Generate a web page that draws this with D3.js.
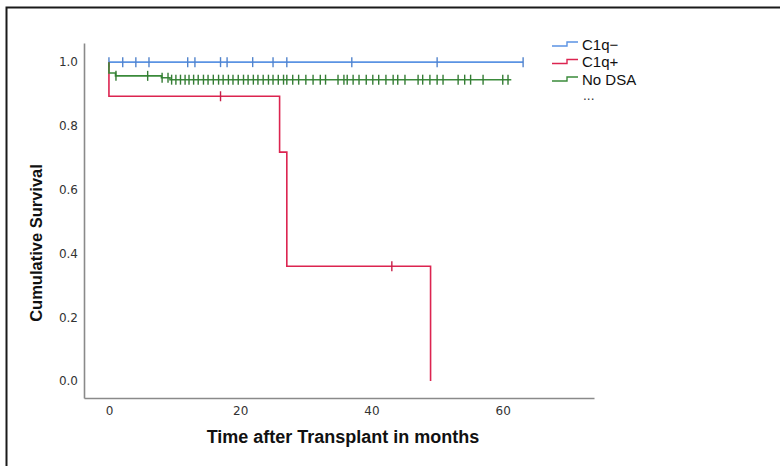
<!DOCTYPE html>
<html>
<head>
<meta charset="utf-8">
<script src="https://cdn.jsdelivr.net/npm/d3@7/dist/d3.min.js"></script>
<style>
  html, body { margin: 0; padding: 0; background: #fff; }
  svg { display: block; font-family: "Liberation Sans", Arial, sans-serif; }
</style>
</head>
<body>
<svg id="chart" width="780" height="466"></svg>
<script>
// Kaplan-Meier survival by DSA group
const groups = ["C1q\u2212", "C1q+", "No DSA"];
const groupColors = ["#5b93e3", "#dc2450", "#3a8a3a"];

// events: [time, survival after the event]
const c1qNegEvents = [];
const c1qNegCensored = [0, 2.1, 4.1, 6.1, 12.0, 13.1, 17.0, 18.0, 21.9, 25.0, 27.1, 37.0, 50.0, 63.1];
const c1qNegEnd = 63.1;

const c1qPosEvents = [[0, 0.893], [26.0, 0.718], [27.1, 0.360], [49.0, 0.0]];
const c1qPosCensored = [17.0, 43.1];
const c1qPosEnd = 49.0;

const noDsaEvents = [[0, 0.966], [1.0, 0.957], [8.0, 0.951], [9.3, 0.945]];
const noDsaCensored = [1.07, 5.9, 8.1, 9.0, 9.55, 10.2, 10.9, 11.6, 12.2, 12.9, 13.6, 14.4, 15.1, 15.9,
  16.7, 17.4, 18.2, 18.9, 19.7, 20.5, 21.2, 22.0, 22.7, 23.5, 24.3, 25.0, 25.8, 26.6,
  27.1, 28.0, 28.9, 30.0, 31.1, 32.2, 33.0, 34.9, 35.8, 36.3, 37.2, 38.1, 39.2, 40.2,
  41.1, 42.2, 43.3, 44.0, 45.1, 47.1, 47.8, 48.9, 50.0, 50.9, 53.2, 54.2, 55.1, 57.0,
  60.0, 60.8];
const noDsaEnd = 61.3;

const xTicks = [0, 20, 40, 60];
const yTicks = [0.0, 0.2, 0.4, 0.6, 0.8, 1.0];

const series = [
  { name: groups[0], color: groupColors[0], events: c1qNegEvents, censored: c1qNegCensored, end: c1qNegEnd },
  { name: groups[1], color: groupColors[1], events: c1qPosEvents, censored: c1qPosCensored, end: c1qPosEnd },
  { name: groups[2], color: groupColors[2], events: noDsaEvents, censored: noDsaCensored, end: noDsaEnd }
];

const svg = d3.select("#chart");

// outer frame
svg.append("rect")
  .attr("x", 6.5).attr("y", 7.5)
  .attr("width", 800).attr("height", 500)
  .attr("fill", "none").attr("stroke", "#1a1a1a").attr("stroke-width", 2);

const x = d3.scaleLinear().domain([-3.8, 73.9]).range([84, 594]);
const y = d3.scaleLinear().domain([-0.053, 1.06]).range([398, 43]);

// axes
const xAxis = svg.append("g")
  .attr("transform", "translate(0,398)")
  .call(d3.axisBottom(x).tickValues(xTicks).tickFormat(d3.format("d")).tickSize(0).tickSizeOuter(0).tickPadding(8));
const yAxis = svg.append("g")
  .attr("transform", "translate(84,0)")
  .call(d3.axisLeft(y).tickValues(yTicks).tickFormat(d3.format(".1f")).tickSize(0).tickSizeOuter(0).tickPadding(6));

[xAxis, yAxis].forEach(g => {
  g.select(".domain").attr("stroke", "#8a8a8a").attr("stroke-width", 1.6);
  g.selectAll("text").attr("fill", "#333").style("font-size", "12px")
    .style("font-family", "'DejaVu Sans', sans-serif");
});

// axis titles
svg.append("text")
  .attr("x", 343).attr("y", 443)
  .attr("text-anchor", "middle")
  .style("font-size", "18px").style("font-weight", "bold").attr("fill", "#111")
  .text("Time after Transplant in months");
svg.append("text")
  .attr("transform", "translate(42,243) rotate(-90)")
  .attr("text-anchor", "middle")
  .style("font-size", "16.5px").style("font-weight", "bold").attr("fill", "#111")
  .text("Cumulative Survival");

// survival value at time t (right-continuous step function)
function survivalAt(events, t) {
  let s = 1;
  for (const [et, es] of events) { if (et <= t) s = es; }
  return s;
}

// step path points
function stepPoints(s) {
  const pts = [[0, 1]];
  let cur = 1;
  for (const [et, es] of s.events) {
    pts.push([et, cur]);
    pts.push([et, es]);
    cur = es;
  }
  const last = s.events.length ? s.events[s.events.length - 1][0] : 0;
  if (s.end > last) pts.push([s.end, cur]);
  return pts;
}

const line = d3.line().x(d => x(d[0])).y(d => y(d[1]));

series.forEach(s => {
  const g = svg.append("g");
  g.append("path")
    .attr("d", line(stepPoints(s)))
    .attr("fill", "none")
    .attr("stroke", s.color)
    .attr("stroke-width", 1.6);
  g.selectAll("line.censor")
    .data(s.censored)
    .join("line")
    .attr("class", "censor")
    .attr("x1", d => x(d)).attr("x2", d => x(d))
    .attr("y1", d => y(survivalAt(s.events, d)) - 5)
    .attr("y2", d => y(survivalAt(s.events, d)) + 5)
    .attr("stroke", d3.color(s.color).darker(0.3))
    .attr("stroke-width", 1.4);
});

// legend
const legend = svg.append("g").attr("transform", "translate(552,0)");
series.forEach((s, i) => {
  const cy = 44 + i * 17.5;
  legend.append("path")
    .attr("d", `M0,${cy + 2}H15V${cy - 2}H26`)
    .attr("fill", "none").attr("stroke", s.color).attr("stroke-width", 1.4);
  legend.append("text")
    .attr("x", 30).attr("y", cy + 5.5)
    .style("font-size", "15px").attr("fill", "#111")
    .text(s.name);
});
legend.append("text")
  .attr("x", 31).attr("y", 100)
  .style("font-size", "12px").attr("fill", "#333")
  .style("font-family", "'DejaVu Sans', sans-serif")
  .text("...");
</script>
</body>
</html>
